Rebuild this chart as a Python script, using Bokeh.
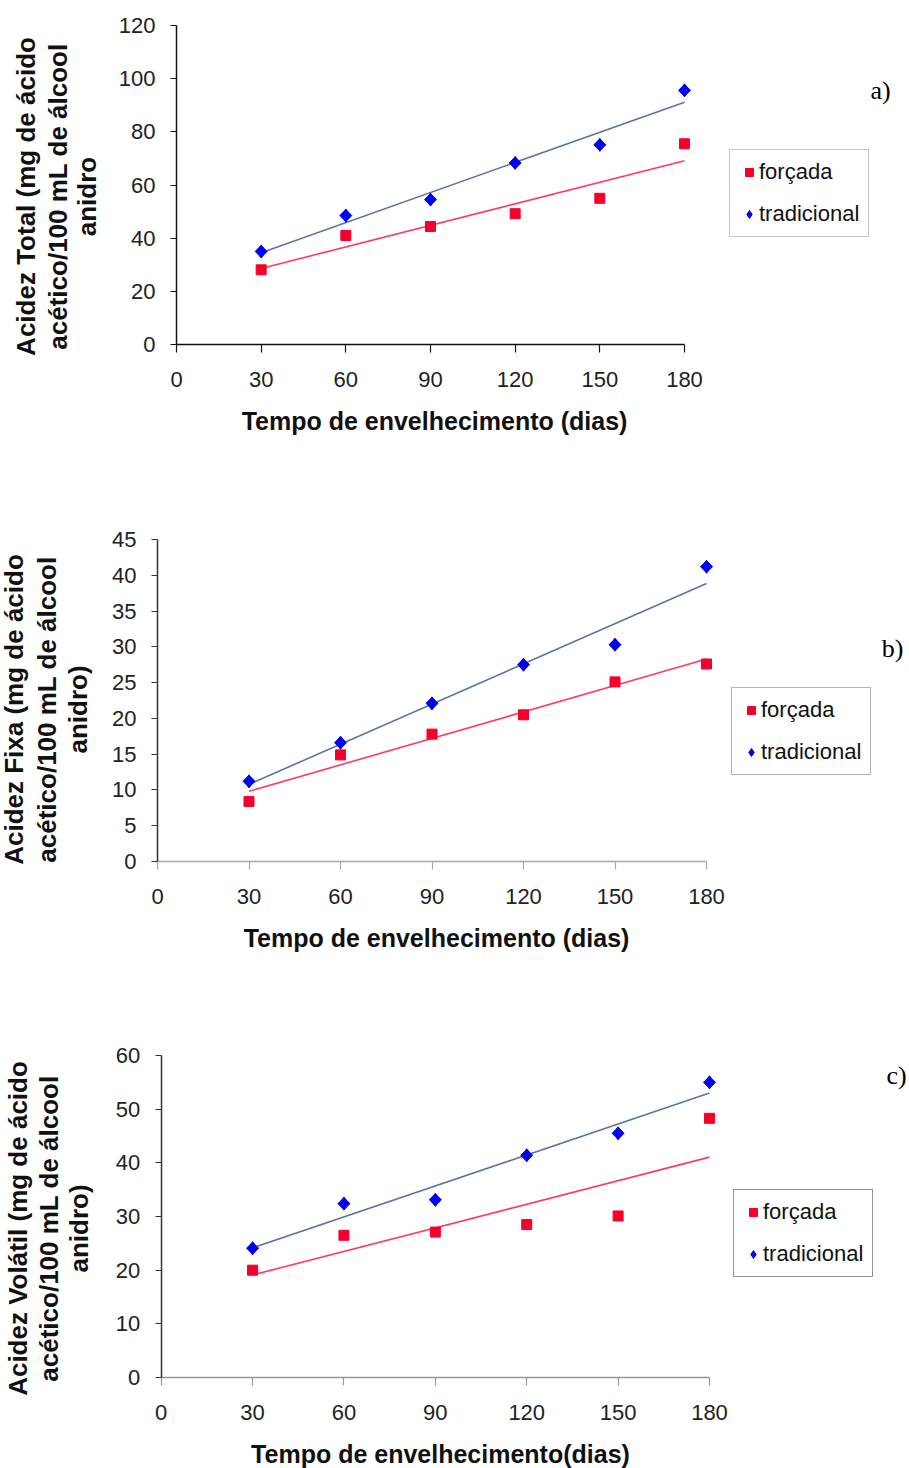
import numpy as np
from bokeh.plotting import figure
from bokeh.layouts import column
from bokeh.models import Range1d, FixedTicker, Label, Legend, LegendItem, LinearAxis
from bokeh.embed import file_html
from bokeh.resources import INLINE

# Aging time (days) and acidity measurements (mg acetic acid / 100 mL anhydrous alcohol)
dias = [30, 60, 90, 120, 150, 180]
x_ticks = [0, 30, 60, 90, 120, 150, 180]

total_forcada = [28.1, 41.0, 44.4, 49.2, 55.0, 75.5]
total_tradicional = [35.0, 48.5, 54.5, 68.3, 75.1, 95.6]

fixa_forcada = [8.4, 14.9, 17.8, 20.5, 25.1, 27.6]
fixa_tradicional = [11.2, 16.6, 22.1, 27.5, 30.3, 41.2]

volatil_forcada = [20.0, 26.5, 27.1, 28.5, 30.1, 48.3]
volatil_tradicional = [24.1, 32.4, 33.1, 41.4, 45.5, 55.0]

ticks_total = [0, 20, 40, 60, 80, 100, 120]
ticks_fixa = [0, 5, 10, 15, 20, 25, 30, 35, 40, 45]
ticks_volatil = [0, 10, 20, 30, 40, 50, 60]

FONT = "Liberation Sans"
RED = "#f5002d"
BLUE = "#0000f0"
RED_TREND = "#ff3a64"
BLUE_TREND = "#5a74a4"
W = 909


def panel(forcada, tradicional, yticks, title_lines, x_title, letter, H,
          x0_px, x180_px, y0_px, ytop_px, axis_color_x, axis_color_y,
          title_x, title_y, xt_xy, legend_xy, letter_xy, legend_border):
    ymax = yticks[-1]
    sx = (x180_px - x0_px) / 180.0
    sy = (y0_px - ytop_px) / ymax
    # the plotting frame spans the whole canvas; axes sit at x=0 / y=0
    p = figure(width=W, height=H, output_backend="svg", toolbar_location=None,
               x_range=Range1d(-x0_px / sx, (W - x0_px) / sx),
               y_range=Range1d(-(H - y0_px) / sy, ymax + ytop_px / sy),
               x_axis_location=None, y_axis_location=None,
               min_border=0)
    p.outline_line_color = None
    p.xgrid.visible = False
    p.ygrid.visible = False
    p.background_fill_color = "white"
    p.border_fill_color = "white"

    xaxis = LinearAxis(fixed_location=0, bounds=(0, 180),
                       ticker=FixedTicker(ticks=x_ticks))
    yaxis = LinearAxis(fixed_location=0, bounds=(0, ymax),
                       ticker=FixedTicker(ticks=yticks))
    for ax, color in ((xaxis, axis_color_x), (yaxis, axis_color_y)):
        ax.minor_tick_line_color = None
        ax.axis_line_color = color
        ax.axis_line_width = 1.5
        ax.major_tick_line_color = color
        ax.major_tick_line_width = 1.2
        ax.major_label_text_font = FONT
        ax.major_label_text_font_size = "22px"
        ax.major_label_text_color = "#222222"
    xaxis.major_tick_out = 8
    xaxis.major_tick_in = 0
    xaxis.major_label_standoff = 19
    yaxis.major_tick_out = 6
    yaxis.major_tick_in = 0
    yaxis.major_label_standoff = 15
    p.add_layout(xaxis, "below")
    p.add_layout(yaxis, "left")

    # least-squares trend lines over the measured span
    xs = np.array([dias[0], dias[-1]], dtype=float)
    for series, color in ((forcada, RED_TREND), (tradicional, BLUE_TREND)):
        k, b = np.polyfit(dias, series, 1)
        p.line(xs, k * xs + b, line_color=color, line_width=1.6)

    r_f = p.scatter(dias, forcada, marker="square", size=10,
                    fill_color=RED, line_color=RED)
    # diamond points: a diamond marker filled out by a square turned 45 degrees
    r_t = p.scatter(dias, tradicional, marker="diamond", size=13,
                    fill_color=BLUE, line_color=BLUE)
    p.scatter(dias, tradicional, marker="square", size=8.5, angle=np.pi / 4,
              fill_color=BLUE, line_color=BLUE)

    legend = Legend(items=[LegendItem(label="forçada", renderers=[r_f]),
                           LegendItem(label="tradicional", renderers=[r_t])],
                    location=(legend_xy[0], H - legend_xy[1]))
    legend.label_text_font = FONT
    legend.label_text_font_size = "22px"
    legend.label_text_color = "#111111"
    legend.glyph_width = 20
    legend.glyph_height = 22
    legend.label_standoff = 0
    legend.spacing = 16
    legend.padding = 9
    legend.margin = 0
    legend.border_line_color = legend_border
    legend.border_line_width = 1.5
    legend.background_fill_color = "white"
    legend.background_fill_alpha = 1.0
    p.add_layout(legend)

    for i, line in enumerate(title_lines):
        p.add_layout(Label(x=title_x[i], y=H - title_y, x_units="screen", y_units="screen",
                           text=line, angle=np.pi / 2, text_align="center",
                           text_baseline="middle", text_font=FONT,
                           text_font_style="bold", text_font_size="26px",
                           text_color="#111111"))
    p.add_layout(Label(x=xt_xy[0], y=H - xt_xy[1], x_units="screen", y_units="screen",
                       text=x_title, text_align="center", text_baseline="middle",
                       text_font=FONT, text_font_style="bold", text_font_size="25px",
                       text_color="#111111"))
    p.add_layout(Label(x=letter_xy[0], y=H - letter_xy[1], x_units="screen", y_units="screen",
                       text=letter, text_align="center", text_baseline="middle",
                       text_font="Liberation Serif", text_font_size="26px",
                       text_color="black"))
    return p


pa = panel(total_forcada, total_tradicional, ticks_total,
           ["Acidez Total (mg de ácido", "acético/100 mL de álcool", "anidro"],
           "Tempo de envelhecimento (dias)", "a)", H=480,
           x0_px=176, x180_px=684, y0_px=344, ytop_px=25,
           axis_color_x="#111111", axis_color_y="#111111",
           title_x=[25, 57, 86], title_y=196, xt_xy=(434, 420),
           legend_xy=(729, 237), letter_xy=(880, 90), legend_border="#8a8a8a")

pb = panel(fixa_forcada, fixa_tradicional, ticks_fixa,
           ["Acidez Fixa (mg de ácido", "acético/100 mL de álcool", "anidro)"],
           "Tempo de envelhecimento (dias)", "b)", H=495,
           x0_px=157, x180_px=706, y0_px=381, ytop_px=59,
           axis_color_x="#a8a8a8", axis_color_y="#333333",
           title_x=[13, 46, 77], title_y=229, xt_xy=(436, 457),
           legend_xy=(731, 295), letter_xy=(892, 168), legend_border="#666666")

pc = panel(volatil_forcada, volatil_tradicional, ticks_volatil,
           ["Acidez Volátil (mg de ácido", "acético/100 mL de álcool", "anidro)"],
           "Tempo de envelhecimento(dias)", "c)", H=493,
           x0_px=160.7, x180_px=709, y0_px=402, ytop_px=80,
           axis_color_x="#999999", axis_color_y="#333333",
           title_x=[17, 48, 78], title_y=253, xt_xy=(440, 478),
           legend_xy=(733, 302), letter_xy=(896, 100), legend_border="#222222")

layout = column(pa, pb, pc, spacing=0)
open("out.html", "w").write(file_html(layout, INLINE))
